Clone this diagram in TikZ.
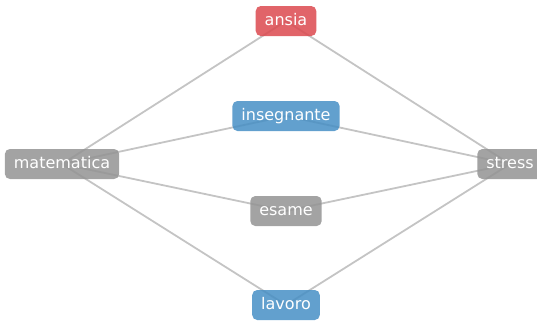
\documentclass[tikz,border=0pt]{standalone}
\usepackage{fontspec}
\setmainfont{DejaVu Sans}
\definecolor{nred}{RGB}{220,73,79}
\definecolor{nblue}{RGB}{70,143,197}
\definecolor{ngray}{RGB}{147,147,147}
\definecolor{edgec}{RGB}{196,196,196}
\begin{document}
\begin{tikzpicture}[x=1pt,y=-1pt,
  nodebox/.style={rounded corners=5pt, fill opacity=0.85, text opacity=1, text=white,
    font=\fontsize{16}{18}\selectfont, inner xsep=9pt, inner ysep=0pt,
    minimum height=30pt, text height=12pt, text depth=3pt},
  redbox/.style={nodebox, fill=nred},
  bluebox/.style={nodebox, fill=nblue},
  graybox/.style={nodebox, fill=ngray},
  link/.style={draw=edgec, line width=1.8pt}]
\useasboundingbox (0,0) rectangle (537,322);
\coordinate (cm) at (62,164);
\coordinate (cs) at (510,164);
\coordinate (ca) at (286,21);
\coordinate (ci) at (286,116);
\coordinate (ce) at (286,211);
\coordinate (cl) at (286,305);
\draw[link] (cm) -- (ca) -- (cs);
\draw[link] (cm) -- (ci) -- (cs);
\draw[link] (cm) -- (ce) -- (cs);
\draw[link] (cm) -- (cl) -- (cs);
\node[redbox] (ansia) at (ca) {ansia};
\node[bluebox] (insegnante) at (ci) {insegnante};
\node[graybox] (matematica) at (cm) {matematica};
\node[graybox] (stress) at (cs) {stress};
\node[graybox] (esame) at (ce) {esame};
\node[bluebox] (lavoro) at (cl) {lavoro};
\end{tikzpicture}
\end{document}
